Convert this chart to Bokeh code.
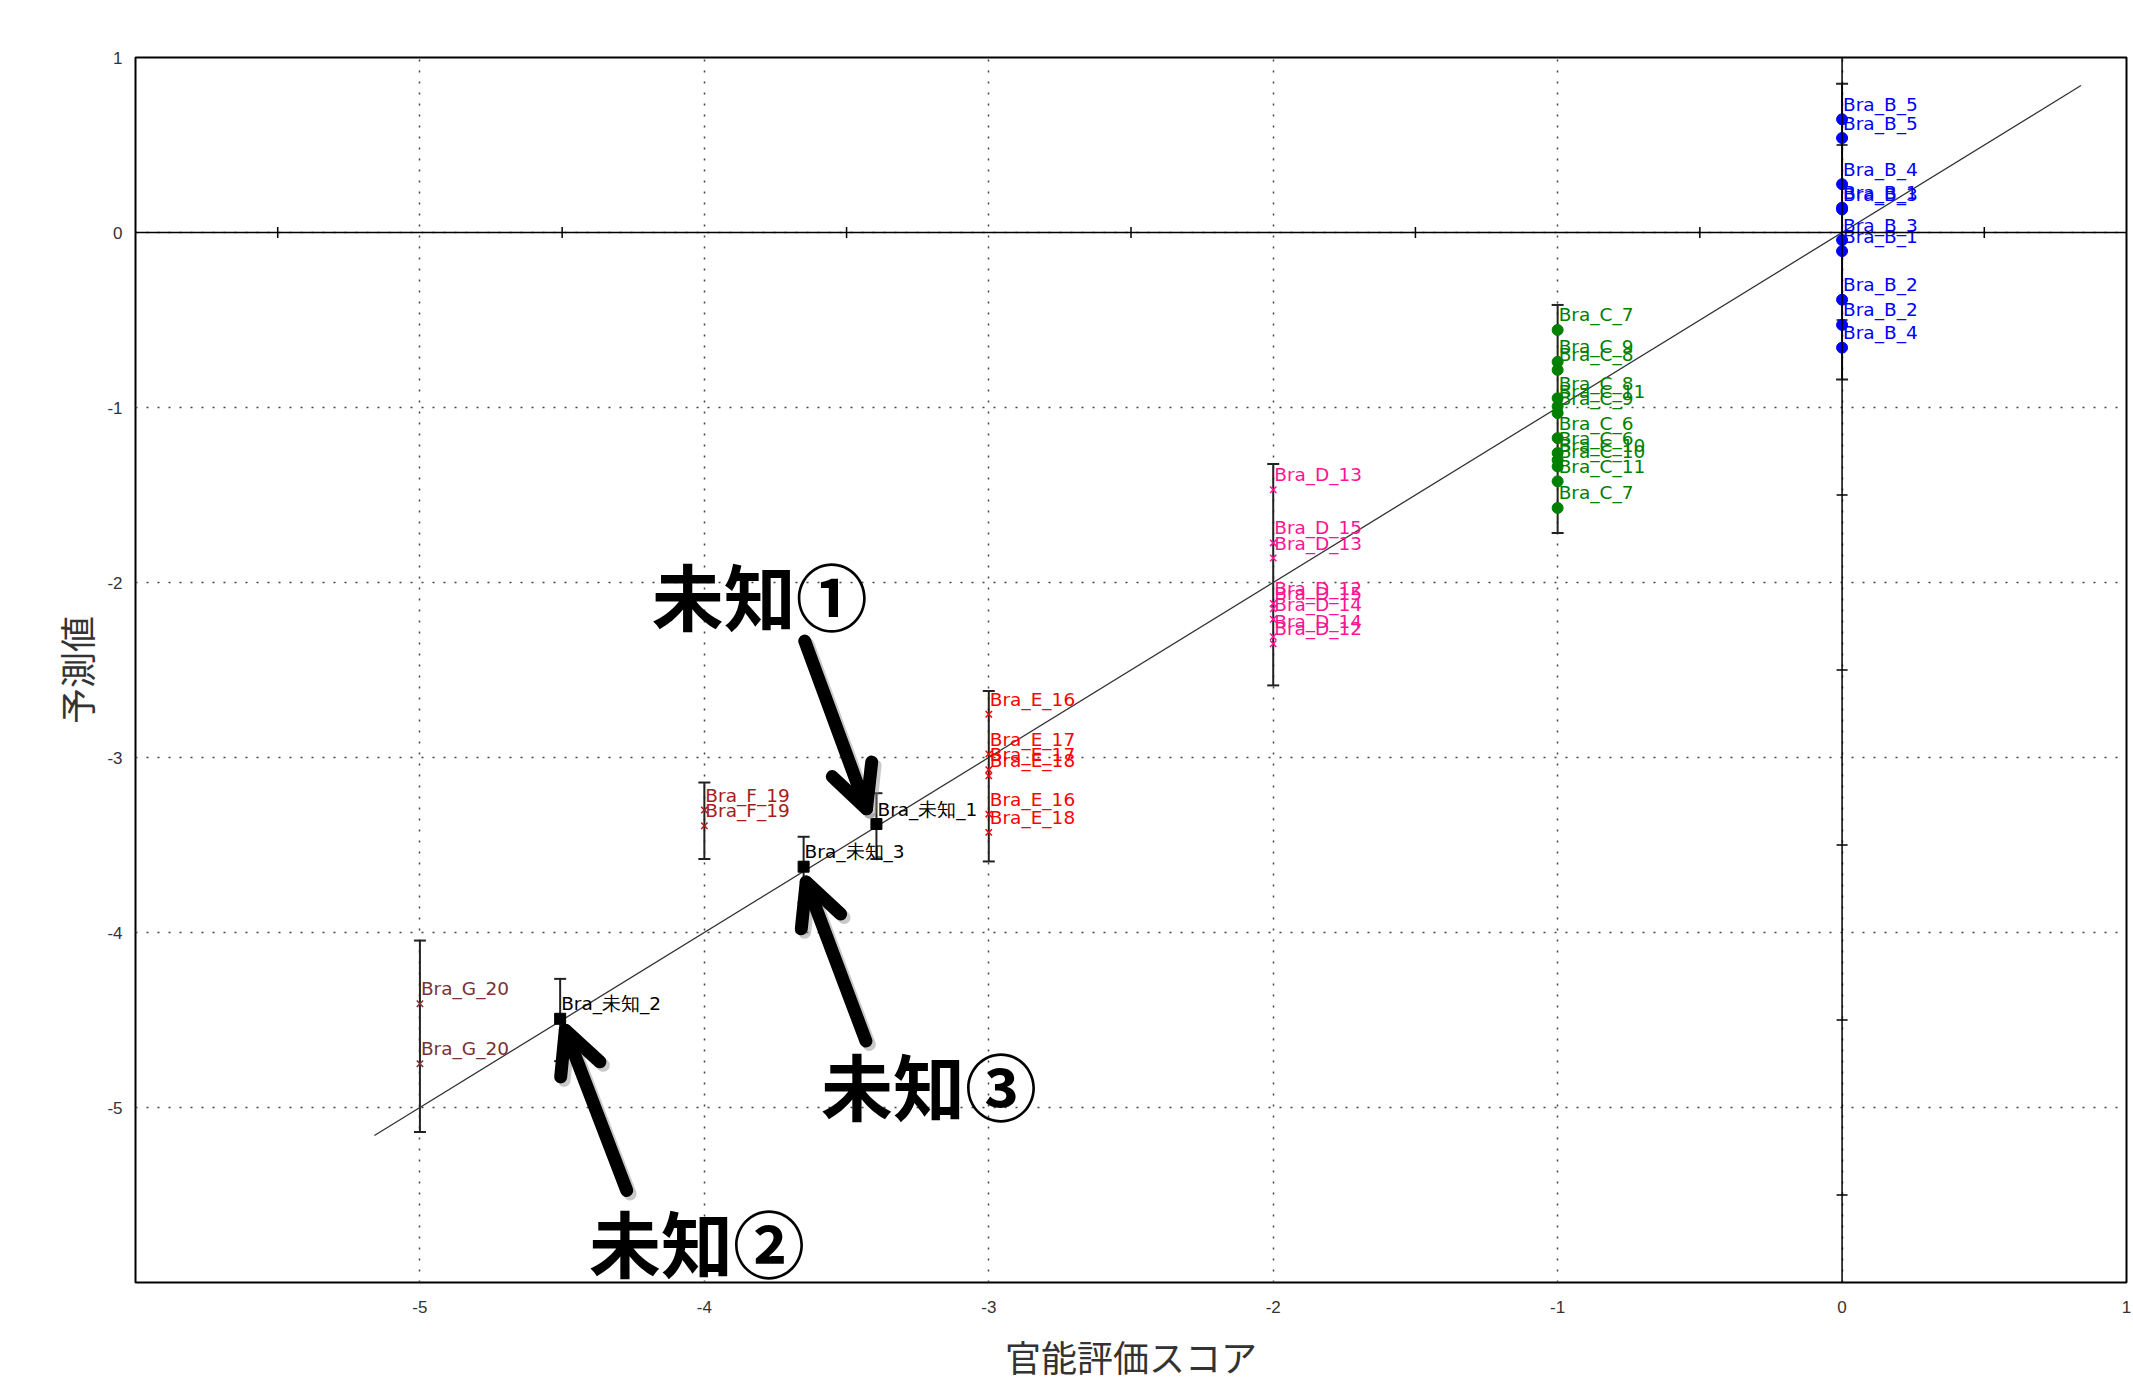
from bokeh.plotting import figure
from bokeh.models import (Range1d, FixedTicker, ColumnDataSource, Whisker, TeeHead,
                          Span, Arrow, OpenHead)
from bokeh.core.properties import value
from bokeh.embed import file_html
from bokeh.resources import INLINE

# ---------------- data ----------------
b_labels = ["Bra_B_5", "Bra_B_5", "Bra_B_4", "Bra_B_1", "Bra_B_3", "Bra_B_3", "Bra_B_1", "Bra_B_2", "Bra_B_2", "Bra_B_4"]
b_x = [0.0] * 10
b_y = [0.647, 0.54, 0.276, 0.142, 0.132, -0.043, -0.106, -0.384, -0.528, -0.658]

c_labels = ["Bra_C_7", "Bra_C_9", "Bra_C_8", "Bra_C_8", "Bra_C_11", "Bra_C_9", "Bra_C_6", "Bra_C_6",
            "Bra_C_10", "Bra_C_10", "Bra_C_11", "Bra_C_7"]
c_x = [-1.0] * 12
c_y = [-0.557, -0.739, -0.785, -0.947, -0.994, -1.032, -1.175, -1.26, -1.30, -1.337, -1.422, -1.574]

d_labels = ["Bra_D_13", "Bra_D_15", "Bra_D_13", "Bra_D_12", "Bra_D_15", "Bra_D_14", "Bra_D_14", "Bra_D_12"]
d_x = [-2.0] * 8
d_y = [-1.47, -1.774, -1.86, -2.12, -2.15, -2.21, -2.31, -2.35]

e_labels = ["Bra_E_16", "Bra_E_17", "Bra_E_17", "Bra_E_18", "Bra_E_16", "Bra_E_18"]
e_x = [-3.0] * 6
e_y = [-2.753, -2.98, -3.07, -3.105, -3.324, -3.428]

f_labels = ["Bra_F_19", "Bra_F_19"]
f_x = [-4.0] * 2
f_y = [-3.30, -3.39]

g_labels = ["Bra_G_20", "Bra_G_20"]
g_x = [-5.0] * 2
g_y = [-4.407, -4.75]

u_labels = ["Bra_未知_1", "Bra_未知_3", "Bra_未知_2"]
u_x = [-3.395, -3.651, -4.507]
u_y = [-3.38, -3.624, -4.493]

err_x = [0.0, -1.0, -2.0, -3.0, -4.0, -5.0, -3.395, -3.651, -4.507]
err_lo = [-0.84, -1.717, -2.588, -3.594, -3.58, -5.14, -3.58, -3.83, -4.735]
err_hi = [0.85, -0.414, -1.323, -2.62, -3.143, -4.046, -3.204, -3.453, -4.265]

fit_x = [-5.16, 0.84]
fit_y = [-5.16, 0.84]

x_ticks = [-5, -4, -3, -2, -1, 0, 1]
y_ticks = [-5, -4, -3, -2, -1, 0, 1]
tick_text = {-5: "-5", -4: "-4", -3: "-3", -2: "-2", -1: "-1", 0: "0", 1: "1"}
axis_minor = [-5.5, -4.5, -3.5, -2.5, -1.5, -0.5, 0.5]

ann_text = ["未知①", "未知②", "未知③"]
ann_x = [-4.185, -4.406, -3.59]
ann_y = [-2.06, -5.76, -4.865]
arr_x0 = [-3.647, -4.273, -3.432]
arr_y0 = [-2.335, -5.474, -4.62]
arr_x1 = [-3.43, -4.489, -3.642]
arr_y1 = [-3.293, -4.558, -3.712]

x_title = "官能評価スコア"
y_title = "予測値"

# ---------------- figure ----------------
p = figure(width=2133, height=1394, output_backend="svg", toolbar_location=None,
           x_range=Range1d(-6, 1), y_range=Range1d(-6, 1),
           min_border_left=135, min_border_right=7, min_border_top=57, min_border_bottom=112)
p.background_fill_color = "white"
p.border_fill_color = "white"
p.outline_line_color = "black"
p.outline_line_width = 2

for ax, ticks in ((p.xaxis[0], x_ticks), (p.yaxis[0], y_ticks)):
    ax.ticker = FixedTicker(ticks=ticks)
    ax.major_label_overrides = dict(tick_text)
    ax.axis_line_color = None
    ax.major_tick_line_color = None
    ax.minor_tick_line_color = None
    ax.major_label_text_font = "Liberation Sans"
    ax.major_label_text_font_size = "17px"
    ax.major_label_text_color = "#333333"
    ax.axis_label_text_font = "Noto Sans CJK JP"
    ax.axis_label_text_font_size = "36px"
    ax.axis_label_text_font_style = "normal"
    ax.axis_label_text_color = "#333333"

p.xaxis.axis_label = x_title
p.yaxis.axis_label = y_title
p.xaxis.major_label_standoff = 12
p.yaxis.major_label_standoff = 7
p.xaxis.axis_label_standoff = 14
p.yaxis.axis_label_standoff = 2

for g in (p.xgrid[0], p.ygrid[0]):
    g.grid_line_color = "#444444"
    g.grid_line_dash = "2 9"
    g.grid_line_width = 1.5
p.xgrid.ticker = FixedTicker(ticks=x_ticks)
p.ygrid.ticker = FixedTicker(ticks=y_ticks)

# axis lines through origin
p.add_layout(Span(location=0, dimension="width", line_color="black", line_width=1.5))
p.add_layout(Span(location=0, dimension="height", line_color="black", line_width=1.5))
p.scatter(axis_minor, [0] * len(axis_minor), marker="dash", size=11, angle=1.5708,
          line_color="black", line_width=1.5)
p.scatter([0] * len(axis_minor), axis_minor, marker="dash", size=11,
          line_color="black", line_width=1.5)

# fit line
p.line(fit_x, fit_y, line_color="#333333", line_width=1.3)

# error bars
esrc = ColumnDataSource(dict(x=err_x, lo=err_lo, hi=err_hi))
p.add_layout(Whisker(source=esrc, base="x", lower="lo", upper="hi",
                     line_color="#222222", line_width=2,
                     lower_head=TeeHead(size=12, line_width=2, line_color="#222222"),
                     upper_head=TeeHead(size=12, line_width=2, line_color="#222222")))

groups = [
    (b_x, b_y, b_labels, "#0000ff", "circle"),
    (c_x, c_y, c_labels, "#008000", "circle"),
    (d_x, d_y, d_labels, "#ff1493", "x"),
    (e_x, e_y, e_labels, "#ff0000", "x"),
    (f_x, f_y, f_labels, "#a61c1c", "x"),
    (g_x, g_y, g_labels, "#7a3232", "x"),
    (u_x, u_y, u_labels, "#000000", "square"),
]
for gx, gy, gl, col, mk in groups:
    src = ColumnDataSource(dict(x=gx, y=gy, t=gl))
    if mk == "x":
        p.scatter("x", "y", source=src, marker="x", size=9, line_color=col, line_width=1.5)
    else:
        p.scatter("x", "y", source=src, marker=mk, size=11, fill_color=col, line_color=col)
    p.text("x", "y", text="t", source=src, text_color=col, text_font=value("DejaVu Sans"),
           text_font_size="18.5px", text_baseline="alphabetic", text_align="left",
           x_offset=1, y_offset=-15)

# annotation arrows (shadow then arrow)
for i in range(len(arr_x0)):
    p.add_layout(Arrow(x_start=arr_x0[i] + 0.012, y_start=arr_y0[i] - 0.02,
                       x_end=arr_x1[i] + 0.012, y_end=arr_y1[i] - 0.02,
                       line_color="#888888", line_alpha=0.45, line_width=13, line_cap="round",
                       end=OpenHead(size=42, line_width=13, line_color="#888888", line_alpha=0.45,
                                    line_cap="round", line_join="round")))
    p.add_layout(Arrow(x_start=arr_x0[i], y_start=arr_y0[i], x_end=arr_x1[i], y_end=arr_y1[i],
                       line_color="black", line_width=13, line_cap="round",
                       end=OpenHead(size=42, line_width=13, line_color="black",
                                    line_cap="round", line_join="round")))

p.text(ann_x, ann_y, text=ann_text, text_color="black", text_font=value("Noto Sans CJK JP"),
       text_font_style="bold", text_font_size="72px", text_baseline="middle", text_align="left")

open("out.html", "w").write(file_html(p, INLINE))
